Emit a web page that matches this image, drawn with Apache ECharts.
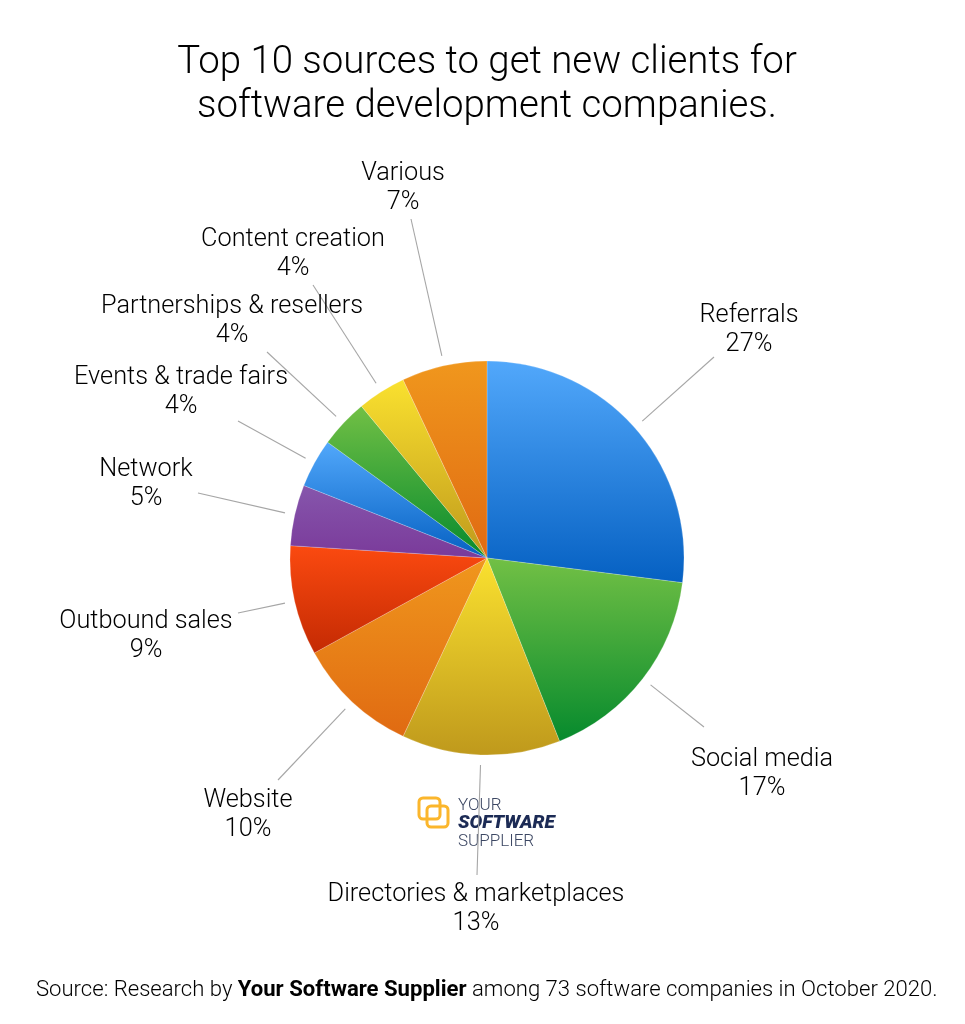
<!DOCTYPE html>
<html><head><meta charset="utf-8">
<style>html,body{margin:0;padding:0;background:#fff}#c{width:965px;height:1024px}</style>
<script src="https://cdn.jsdelivr.net/npm/echarts@6/dist/echarts.min.js"></script>
</head><body><div id="c"></div>
<script>
const categories = ['Referrals','Social media','Directories & marketplaces','Website','Outbound sales','Network','Events & trade fairs','Partnerships & resellers','Content creation','Various'];
const shares = [27,17,13,10,9,5,4,4,4,7];
const gradTop = ['#52a8fb','#72c045','#fae12f','#f0971d','#fb4a10','#8656ac','#52a8fb','#72c045','#fae12f','#f0971d'];
const gradBottom = ['#0560c2','#068a2d','#bf991c','#e06a12','#c42a03','#7a3a9a','#0560c2','#068a2d','#bf991c','#e06a12'];
const labelPos = [[749,330],[762,774],[476,909],[248,815],[146,636],[146,484],[181,392],[232,321],[293,254],[403,188]];
const lineEnd = [[714,357],[704,727],[477,875],[278,780],[238,613],[198,493],[238,421],[267,352],[313,285],[411,219]];
const CX=487, CY=558, R=197, GAP=10;
const total = shares.reduce((a,b)=>a+b,0);
let acc=0;
const starts = shares.map(v=>{const a=acc+v/2;acc+=v;const t=a/total*2*Math.PI;return [CX+(R+GAP)*Math.sin(t),CY-(R+GAP)*Math.cos(t)];});
const font='Roboto';
const chart=echarts.init(document.getElementById('c'),null,{renderer:'canvas'});
chart.setOption({
  animation:false,
  backgroundColor:'#fff',
  graphic:[
    {type:'text',x:CX,y:85,style:{text:'Top 10 sources to get new clients for\nsoftware development companies.',align:'center',verticalAlign:'middle',fontFamily:font,fontWeight:300,fontSize:38.4,lineHeight:44,fill:'#000'}},
    {type:'rect',shape:{x:419,y:798,width:21,height:21,r:4},style:{fill:'none',stroke:'#fbb62c',lineWidth:3}},
    {type:'rect',shape:{x:427,y:806,width:21,height:21,r:4},style:{fill:'none',stroke:'#fbb62c',lineWidth:3}},
    {type:'text',x:458,y:806,style:{text:'YOUR',fontFamily:font,fontWeight:300,fontSize:17,fill:'#3c4763',verticalAlign:'middle'}},
    {type:'text',x:458,y:823,style:{text:'SOFTWARE',fontFamily:font,fontWeight:900,fontStyle:'italic',fontSize:19,fill:'#1c2b55',verticalAlign:'middle'}},
    {type:'text',x:458,y:842,style:{text:'SUPPLIER',fontFamily:font,fontWeight:300,fontSize:17,fill:'#3c4763',verticalAlign:'middle'}},
    {type:'text',x:36,y:990,style:{
      rich:{n:{fontFamily:font,fontWeight:300,fontSize:22.1,fill:'#000'},b:{fontFamily:font,fontWeight:700,fontSize:22.1,fill:'#000'}},
      text:'{n|Source: Research by }{b|Your Software Supplier}{n| among 73 software companies in October 2020.}',verticalAlign:'middle'}}
  ],
  series:[{
    type:'pie',
    center:[CX,CY],radius:[0,R],
    startAngle:90,clockwise:true,
    silent:true,
    itemStyle:{borderColor:'rgba(255,255,255,0.35)',borderWidth:0.6},
    label:{show:true,position:'outside',alignTo:'none',overflow:'none',width:400,formatter:p=>p.name+'\n'+p.value+'%',fontFamily:font,fontWeight:300,fontSize:25.3,lineHeight:29,color:'#000',align:'center'},
    labelLine:{show:true,lineStyle:{color:'#a6a6a6',width:1.1}},
    labelLayout:p=>{
      const i=p.dataIndex;
      return {x:labelPos[i][0],y:labelPos[i][1],align:'center',verticalAlign:'middle',
        labelLinePoints:[starts[i],lineEnd[i],lineEnd[i]]};
    },
    data:categories.map((n,i)=>({name:n,value:shares[i],itemStyle:{color:new echarts.graphic.LinearGradient(0,0,0,1,[{offset:0,color:gradTop[i]},{offset:1,color:gradBottom[i]}])}}))
  }]
});
</script></body></html>
